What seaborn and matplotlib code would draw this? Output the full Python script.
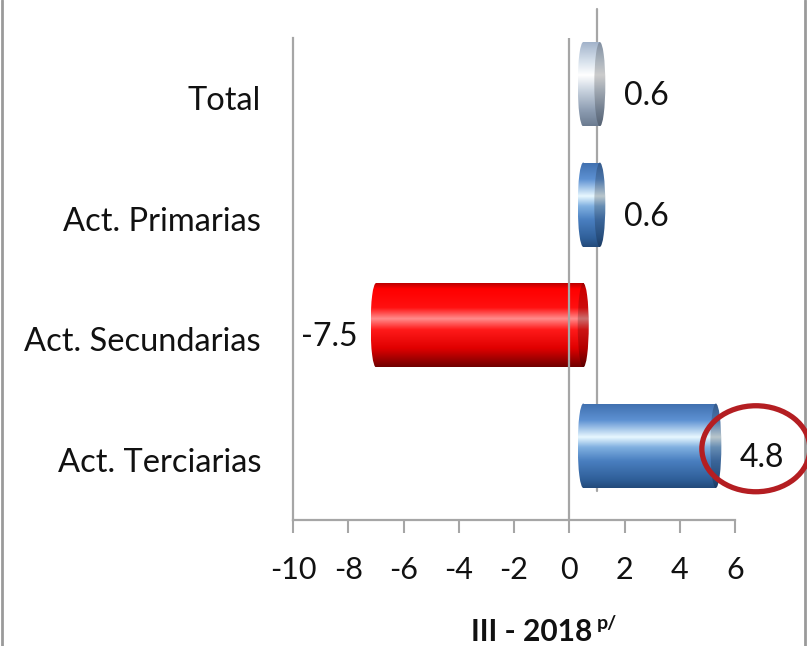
import matplotlib
matplotlib.use("Agg")
import matplotlib.pyplot as plt
import matplotlib.transforms as mtransforms
from matplotlib.colors import LinearSegmentedColormap, to_rgb
from matplotlib.patches import Ellipse
from matplotlib.lines import Line2D
import numpy as np
import pandas as pd
import seaborn as sns

# values
categories = ["Total", "Act. Primarias", "Act. Secundarias", "Act. Terciarias"]
values = [0.6, 0.6, -7.5, 4.8]
bar_styles = ["total", "blue", "red", "blue"]
x_ticks = [-10, -8, -6, -4, -2, 0, 2, 4, 6]
title_main = "III - 2018"
title_sup = "p/"
highlight = "Act. Terciarias"

# cylinder shading, top to bottom (position, colour)
GRADIENTS = {
    "total": [(0.0, "#9fb0c8"), (0.22, "#d3deea"), (0.40, "#ffffff"),
              (0.58, "#c9d3df"), (0.82, "#8c9cb1"), (1.0, "#6b7b90")],
    "blue": [(0.0, "#3f6fae"), (0.20, "#5d91d2"), (0.40, "#e8f8ff"),
             (0.52, "#80b0e0"), (0.68, "#4a7fc0"), (0.9, "#2f5f99"), (1.0, "#234a7a")],
    "red": [(0.0, "#b00000"), (0.08, "#ff0000"), (0.30, "#ff1010"), (0.43, "#ff8c8c"),
            (0.56, "#ff1a1a"), (0.78, "#e00000"), (1.0, "#700000")],
}
MID_COLOURS = {"total": "#c9d3df", "blue": "#4a7fc0", "red": "#ff0000"}
GRAY = "#a6a6a6"


def make_cmap(stops, shade=1.0):
    cols = [(p, tuple(c * shade for c in to_rgb(col))) for p, col in stops]
    return LinearSegmentedColormap.from_list("cyl", cols)


def fill_gradient(ax, clip, cmap, extent, trans, zorder):
    grad = np.linspace(0, 1, 256).reshape(-1, 1)
    im = ax.imshow(grad, cmap=cmap, aspect="auto", extent=extent,
                   transform=trans, zorder=zorder, interpolation="bilinear")
    im.set_clip_path(clip)
    return im


def plot_chart() -> None:
    sns.set_theme(style="white")
    plt.rcParams["font.family"] = ["Lato", "DejaVu Sans"]
    plt.rcParams["axes.unicode_minus"] = False

    fig = plt.figure(figsize=(8.07, 6.46), dpi=100)
    ax = fig.add_axes([293 / 807, 126 / 646, 442 / 807, 482 / 646])

    df = pd.DataFrame({"cat": categories, "val": values})
    sns.barplot(data=df, x="val", y="cat", hue="cat", orient="h", width=0.7,
                palette=[MID_COLOURS[s] for s in bar_styles], saturation=1,
                legend=False, ax=ax)

    xmin, xmax = x_ticks[0], x_ticks[-1]
    ax.set_xlim(xmin, xmax)
    ax.set_ylim(len(categories) - 0.5, -0.5)
    ax.set_autoscale_on(False)

    # 3D depth: bars sit half way back
    depth = mtransforms.ScaledTranslation(0.14, 0.14, fig.dpi_scale_trans)
    bar_trans = ax.transData + depth
    rx = 5.5 / (442 / (xmax - xmin))

    for patch, style in zip(ax.patches, bar_styles):
        x0, w = patch.get_x(), patch.get_width()
        y0, h = patch.get_y(), patch.get_height()
        left, right = min(x0, x0 + w), max(x0, x0 + w)
        yc = y0 + h / 2
        cmap = make_cmap(GRADIENTS[style])
        patch.set_transform(bar_trans)
        patch.set_edgecolor("none")
        patch.set_zorder(3)
        ext = [left - rx, right + rx, y0 + h, y0]
        fill_gradient(ax, patch, cmap, ext, bar_trans, 3.1)
        left_end = Ellipse((left, yc), 2 * rx, h, transform=bar_trans)
        fill_gradient(ax, left_end, cmap, ext, bar_trans, 3.1)
        cap = Ellipse((right, yc), 2 * rx, h, transform=bar_trans)
        fill_gradient(ax, cap, make_cmap(GRADIENTS[style], 0.8), ext, bar_trans, 3.2)

    # value labels
    for i, v in enumerate(values):
        if v >= 0:
            ax.annotate(f"{v:.1f}", (v, i), xytext=(38, 2), textcoords="offset pixels",
                        ha="left", va="center", fontsize=23, color="#111111", zorder=6)
        else:
            ax.annotate(f"{v:.1f}", (v, i), xytext=(-4, 2), textcoords="offset pixels",
                        ha="right", va="center", fontsize=23, color="#111111", zorder=6)

    # front and back zero lines
    ax.axvline(0, color=GRAY, lw=1.6, zorder=5)
    back = Line2D([0, 0], [0, 1], color=GRAY, lw=1.6, zorder=1, clip_on=False,
                  transform=ax.get_xaxis_transform()
                  + mtransforms.ScaledTranslation(0.28, 0.29, fig.dpi_scale_trans))
    ax.add_artist(back)

    for side in ["top", "right"]:
        ax.spines[side].set_visible(False)
    for side in ["left", "bottom"]:
        ax.spines[side].set_color(GRAY)
        ax.spines[side].set_linewidth(1.6)

    ax.set_xticks(x_ticks)
    ax.set_xticklabels([str(t) for t in x_ticks])
    ax.tick_params(axis="x", bottom=True, length=9, width=1.5, color=GRAY,
                   labelsize=22, pad=17, labelcolor="#111111")
    ax.tick_params(axis="y", left=False, labelsize=23.5, pad=17, labelcolor="#111111")
    ax.set_xlabel("")
    ax.set_ylabel("")

    fig.text(592 / 807, 1 - 632 / 646, title_main, ha="right", va="center",
             fontsize=21.5, fontweight="bold", color="#111111")
    fig.text(597 / 807, 1 - 623 / 646, title_sup, ha="left", va="center",
             fontsize=14, fontweight="bold", color="#111111")

    # red ring around the highlighted value
    idx = categories.index(highlight)
    cx, cy = ax.transData.transform((values[idx], idx))
    ring = Ellipse((cx + 54, cy + 11), 108, 86, transform=mtransforms.IdentityTransform(),
                   fill=False, edgecolor="#b41e22", lw=3.8, zorder=7)
    fig.add_artist(ring)

    # picture frame edges
    for xf in [1.5 / 807, 805 / 807]:
        fig.add_artist(Line2D([xf, xf], [0, 1], transform=fig.transFigure,
                              color="#9a9a9a", lw=2))

    fig.savefig("out.png", dpi=100)


if __name__ == "__main__":
    plot_chart()
